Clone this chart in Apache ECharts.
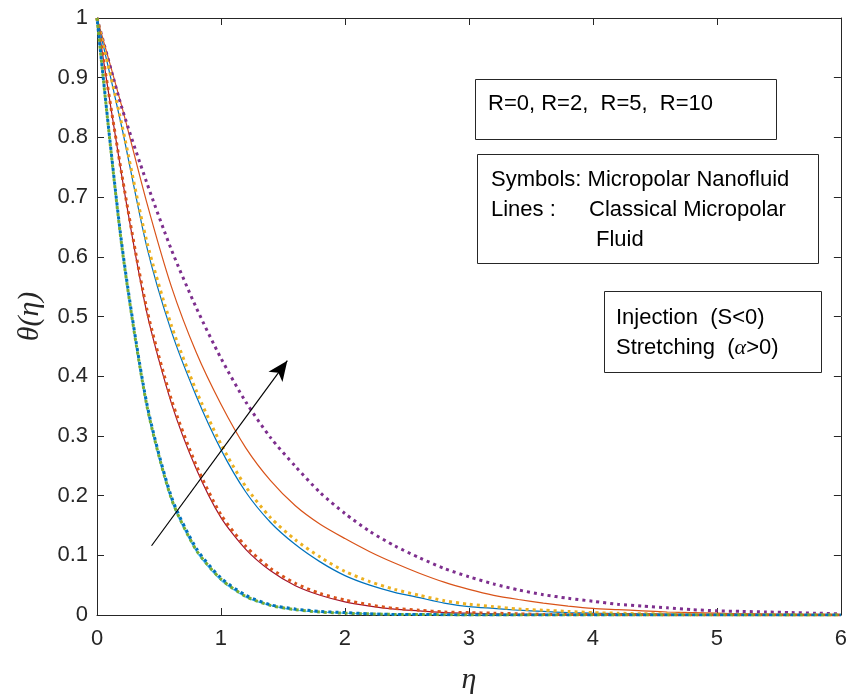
<!DOCTYPE html>
<html style="height: 100%">
<head>
  <meta charset="utf-8">
  <script src="https://cdn.jsdelivr.net/npm/echarts@6.0.0/dist/echarts.min.js"></script>
</head>
<body style="height: 100%; margin: 0; background: #fff">
  <div id="container" style="width: 850px; height: 700px"></div>
  <script type="text/javascript">
// eta grid (x values), step 0.2
var eta = [0, 0.2, 0.4, 0.6, 0.8, 1.0, 1.2, 1.4, 1.6, 1.8, 2.0, 2.2, 2.4, 2.6, 2.8, 3.0,
           3.2, 3.4, 3.6, 3.8, 4.0, 4.2, 4.4, 4.6, 4.8, 5.0, 5.2, 5.4, 5.6, 5.8, 6.0];

// R=0
var r0Line  = [1, 0.615, 0.35, 0.192, 0.107, 0.058, 0.03, 0.016, 0.008, 0.005, 0.003, 0.002, 0.001, 0.001, 0.0005, 0, 0, 0, 0, 0, 0, 0, 0, 0, 0, 0, 0, 0, 0, 0, 0];
var r0DotA  = [1, 0.618, 0.353, 0.195, 0.109, 0.06, 0.031, 0.016, 0.009, 0.005, 0.003, 0.002, 0.001, 0.001, 0.0005, 0, 0, 0, 0, 0, 0, 0, 0, 0, 0, 0, 0, 0, 0, 0, 0];
var r0DotB  = [1, 0.621, 0.356, 0.198, 0.112, 0.062, 0.033, 0.017, 0.01, 0.006, 0.004, 0.002, 0.001, 0.001, 0.0005, 0, 0, 0, 0, 0, 0, 0, 0, 0, 0, 0, 0, 0, 0, 0, 0];
// R=2
var r2Line  = [1, 0.735, 0.508, 0.355, 0.245, 0.163, 0.11, 0.074, 0.049, 0.033, 0.022, 0.015, 0.01, 0.007, 0.004, 0.003, 0.002, 0.001, 0.001, 0.0005, 0.0005, 0, 0, 0, 0, 0, 0, 0, 0, 0, 0];
var r2Dot   = [1, 0.738, 0.514, 0.361, 0.251, 0.168, 0.115, 0.078, 0.053, 0.036, 0.025, 0.017, 0.011, 0.008, 0.005, 0.004, 0.003, 0.002, 0.001, 0.001, 0.001, 0.0005, 0.0005, 0, 0, 0, 0, 0, 0, 0, 0];
// R=5
var r5Line  = [1, 0.817, 0.618, 0.475, 0.367, 0.277, 0.206, 0.155, 0.118, 0.089, 0.066, 0.05, 0.038, 0.029, 0.02, 0.014, 0.011, 0.008, 0.006, 0.004, 0.003, 0.0025, 0.002, 0.0015, 0.001, 0.0005, 0, 0, 0, 0, 0];
var r5Dot   = [1, 0.822, 0.627, 0.485, 0.376, 0.286, 0.215, 0.163, 0.126, 0.097, 0.073, 0.056, 0.043, 0.033, 0.024, 0.018, 0.014, 0.01, 0.008, 0.006, 0.004, 0.003, 0.002, 0.002, 0.001, 0.001, 0.0005, 0.0005, 0, 0, 0];
// R=10
var r10Line = [1, 0.852, 0.692, 0.55, 0.44, 0.353, 0.28, 0.225, 0.183, 0.152, 0.128, 0.106, 0.087, 0.07, 0.055, 0.043, 0.033, 0.026, 0.02, 0.015, 0.011, 0.009, 0.007, 0.005, 0.004, 0.003, 0.002, 0.0015, 0.001, 0.0005, 0];
var r10Dot  = [1, 0.85, 0.725, 0.612, 0.515, 0.43, 0.357, 0.297, 0.249, 0.205, 0.17, 0.14, 0.116, 0.096, 0.078, 0.064, 0.052, 0.042, 0.034, 0.028, 0.023, 0.018, 0.015, 0.012, 0.009, 0.007, 0.006, 0.005, 0.004, 0.003, 0.002];

// arrow (increasing R)
var arrowFrom = [0.44, 0.116];
var arrowTo = [1.535, 0.426];

var xTicks = [0, 6, 1];
var yTicks = [0, 1, 0.1];

function pairs(ys) {
    return eta.map(function (x, i) { return [x, ys[i]]; });
}

function curve(name, ys, color, dotted, offset) {
    return {
        name: name,
        type: 'line',
        data: pairs(ys),
        smooth: 0.25,
        showSymbol: false,
        silent: true,
        z: dotted ? 3 : 2,
        lineStyle: dotted ? {
            color: color, width: 3, type: [3, 4], dashOffset: offset || 0, cap: 'butt'
        } : {
            color: color, width: 1.2, type: 'solid'
        }
    };
}

var dom = document.getElementById("container");
var myChart = echarts.init(dom, null, { renderer: 'canvas' });

var axisCol = '#262626';
var font = 'Liberation Sans, Arial, Helvetica, sans-serif';

function xAx(pos, labels) {
    return {
        type: 'value', position: pos, min: xTicks[0], max: xTicks[1], interval: xTicks[2],
        axisLine: { show: true, onZero: false, lineStyle: { color: axisCol, width: 1 } },
        axisTick: { show: true, inside: true, length: 7, lineStyle: { color: axisCol } },
        splitLine: { show: false },
        axisLabel: { show: labels, color: axisCol, fontSize: 22, fontFamily: font, margin: 13 },
        name: labels ? 'η' : '',
        nameLocation: 'middle',
        nameGap: 50,
        nameTextStyle: { fontSize: 30, fontStyle: 'italic', fontFamily: 'Liberation Serif, DejaVu Serif, serif', color: axisCol }
    };
}
function yAx(pos, labels) {
    return {
        type: 'value', position: pos, min: yTicks[0], max: yTicks[1], interval: yTicks[2],
        axisLine: { show: true, onZero: false, lineStyle: { color: axisCol, width: 1 } },
        axisTick: { show: true, inside: true, length: 7, lineStyle: { color: axisCol } },
        splitLine: { show: false },
        axisLabel: { show: labels, color: axisCol, fontSize: 22, fontFamily: font, margin: 9 },
        name: labels ? 'θ(η)' : '',
        nameLocation: 'middle',
        nameRotate: 90,
        nameGap: 52,
        nameTextStyle: { fontSize: 30, fontStyle: 'italic', fontFamily: 'Liberation Serif, DejaVu Serif, serif', color: axisCol }
    };
}

var series = [
    curve('R=10 fluid', r10Line, '#D95319', false),
    curve('R=5 fluid', r5Line, '#0072BD', false),
    curve('R=2 fluid', r2Line, '#A2142F', false),
    curve('R=0 fluid', r0Line, '#4DBEEE', false),
    curve('R=10 nano', r10Dot, '#7E2F8E', true),
    curve('R=5 nano', r5Dot, '#EDB120', true),
    curve('R=2 nano', r2Dot, '#D95319', true),
    curve('R=0 nano a', r0DotA, '#77AC30', true, 0),
    curve('R=0 nano b', r0DotB, '#0072BD', true, 3.5),
    {
        type: 'line', data: [], silent: true, z: 5,
        markLine: {
            silent: true, animation: false,
            symbol: ['none', 'arrow'],
            symbolSize: [13, 20],
            label: { show: false },
            lineStyle: { color: '#000', width: 1.2, type: 'solid' },
            data: [[{ coord: arrowFrom }, { coord: arrowTo }]]
        }
    }
];

function box(x, y, w, h) {
    return { type: 'rect', shape: { x: x, y: y, width: w, height: h }, style: { fill: '#fff', stroke: axisCol, lineWidth: 1 }, z: 10 };
}
function txt(x, y, s, rich) {
    return { type: 'text', x: x, y: y, z: 11, style: { text: s, fill: '#000', font: '22px ' + font, verticalAlign: 'middle', rich: rich || {} } };
}

var option = {
    animation: false,
    backgroundColor: '#fff',
    grid: { left: 97, right: 6, top: 18, bottom: 81 },
    xAxis: [xAx('bottom', true), xAx('top', false)],
    yAxis: [yAx('left', true), yAx('right', false)],
    series: series,
    graphic: [
        box(475.5, 79.5, 301, 60),
        txt(488, 104, 'R=0, R=2,  R=5,  R=10'),
        box(477.5, 154.5, 341, 109),
        txt(491, 180, 'Symbols: Micropolar Nanofluid'),
        txt(491, 210, 'Lines :'),
        txt(589, 210, 'Classical Micropolar'),
        txt(596, 240, 'Fluid'),
        box(604.5, 291.5, 217, 81),
        txt(616, 318, 'Injection  (S<0)'),
        txt(616, 348, 'Stretching  ({a|α}>0)', {
            a: { fontStyle: 'italic', fontFamily: 'Liberation Serif, DejaVu Serif, serif', fontSize: 22 }
        })
    ]
};

myChart.setOption(option);
  </script>
</body>
</html>
